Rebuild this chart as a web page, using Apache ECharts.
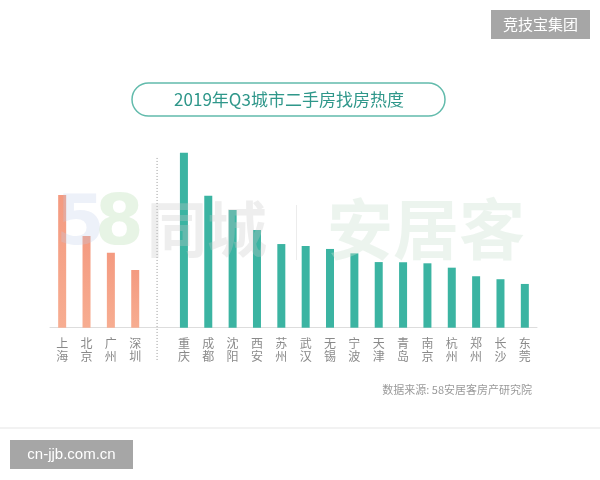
<!DOCTYPE html>
<html>
<head>
<meta charset="utf-8">
<script src="https://cdn.jsdelivr.net/npm/echarts@6/dist/echarts.min.js"></script>
<style>html,body{margin:0;padding:0;background:#fff;}#c{width:600px;height:480px;}</style>
</head>
<body>
<div id="c"></div>
<script>
// Data (relative heat index, 重庆 = 100)
const tier1Cities = ['上海', '北京', '广州', '深圳'];
const tier1Values = [75.8, 52.4, 42.9, 33.0];
const tier2Cities = ['重庆', '成都', '沈阳', '西安', '苏州', '武汉', '无锡', '宁波', '天津', '青岛', '南京', '杭州', '郑州', '长沙', '东莞'];
const tier2Values = [100, 75.4, 67.3, 55.8, 47.8, 46.7, 45.0, 42.5, 37.5, 37.4, 36.8, 34.3, 29.4, 27.7, 25.0];

const categories = [...tier1Cities, '', ...tier2Cities];
const gapIndex = tier1Cities.length;
const tier1Data = [...tier1Values, null, ...tier2Cities.map(() => null)];
const tier2Data = [...tier1Cities.map(() => null), null, ...tier2Values];

const chart = echarts.init(document.getElementById('c'), null, {renderer: 'canvas'});
const FONT = '"Noto Sans CJK SC", "Noto Sans", sans-serif';

const baseGraphic = [
  // title box
  {type: 'rect', shape: {x: 132, y: 83, width: 313, height: 33, r: 16.5},
   style: {fill: 'none', stroke: '#62BBAC', lineWidth: 1.5}},
  {type: 'text', x: 289, y: 100,
   style: {text: '2019年Q3城市二手房找房热度', fill: '#2F978A', font: '17px ' + FONT,
           textAlign: 'center', textVerticalAlign: 'middle'}},
  // watermark
  {type: 'text', x: 56, y: 226, z: 10, silent: true,
   style: {text: '5', fill: 'rgba(190,205,235,0.28)', font: 'bold 70px "DejaVu Sans", sans-serif', textVerticalAlign: 'middle'}},
  {type: 'text', x: 95, y: 226, z: 10, silent: true,
   style: {text: '8', fill: 'rgba(175,220,170,0.30)', font: 'bold 70px "DejaVu Sans", sans-serif', textVerticalAlign: 'middle'}},
  {type: 'text', x: 147, y: 229, z: 10, silent: true,
   style: {text: '同城', fill: 'rgba(200,200,200,0.30)', font: 'bold 60px ' + FONT, textVerticalAlign: 'middle'}},
  {type: 'rect', z: 10, silent: true, shape: {x: 296, y: 205, width: 1, height: 55}, style: {fill: 'rgba(200,200,200,0.35)'}},
  {type: 'text', x: 327, y: 229, z: 10, silent: true,
   style: {text: '安居客', fill: 'rgba(205,225,210,0.38)', font: 'bold 66px ' + FONT, textVerticalAlign: 'middle'}},
  // source
  {type: 'text', x: 532, y: 390,
   style: {text: '数据来源: 58安居客房产研究院', fill: '#9a9a9a', font: '11px ' + FONT,
           textAlign: 'right', textVerticalAlign: 'middle'}},
  // separator line
  {type: 'rect', shape: {x: 0, y: 427.5, width: 600, height: 1}, style: {fill: '#e6e6e6'}},
  // top-right badge
  {type: 'rect', shape: {x: 491, y: 10, width: 99, height: 29}, style: {fill: '#a6a6a6'}},
  {type: 'text', x: 540.5, y: 24.5,
   style: {text: '竞技宝集团', fill: '#ffffff', font: '15px ' + FONT, textAlign: 'center', textVerticalAlign: 'middle'}},
  // bottom-left badge
  {type: 'rect', shape: {x: 10, y: 440, width: 123, height: 29}, style: {fill: '#a6a6a6'}},
  {type: 'text', x: 71.5, y: 454.5,
   style: {text: 'cn-jjb.com.cn', fill: '#ffffff', font: '15px "Liberation Sans", Arial, sans-serif', textAlign: 'center', textVerticalAlign: 'middle'}}
];

chart.setOption({
  backgroundColor: '#fff',
  animation: false,
  grid: {left: 50, right: 63, top: 152.7, bottom: 152.3},
  xAxis: {
    type: 'category',
    data: categories,
    axisLine: {lineStyle: {color: '#dddddd', width: 1}},
    axisTick: {show: false},
    axisLabel: {
      interval: 0,
      margin: 9,
      color: '#8a8a8a',
      fontSize: 12,
      lineHeight: 13,
      fontFamily: FONT,
      formatter: v => v.split('').join('\n')
    }
  },
  yAxis: {type: 'value', min: 0, max: 100, show: false, splitLine: {show: false}},
  series: [
    {
      type: 'bar',
      data: tier1Data,
      barWidth: 8,
      barGap: '-100%',
      itemStyle: {
        color: new echarts.graphic.LinearGradient(0, 0, 0, 1, [
          {offset: 0, color: '#F49A80'},
          {offset: 1, color: '#F7AD91'}
        ])
      }
    },
    {
      type: 'bar',
      data: tier2Data,
      barWidth: 8,
      barGap: '-100%',
      itemStyle: {color: '#3BB4A2'}
    }
  ],
  graphic: baseGraphic
});

// dotted divider placed at the empty category through the library's scale
const gx = chart.convertToPixel({xAxisIndex: 0}, gapIndex) - 2.5;
const gTop = chart.convertToPixel({yAxisIndex: 0}, 97);
chart.setOption({
  graphic: baseGraphic.concat([{
    type: 'line', silent: true,
    shape: {x1: gx, y1: gTop, x2: gx, y2: 360},
    style: {stroke: '#9a9a9a', lineWidth: 1, lineDash: [1, 2]}
  }])
});
</script>
</body>
</html>
